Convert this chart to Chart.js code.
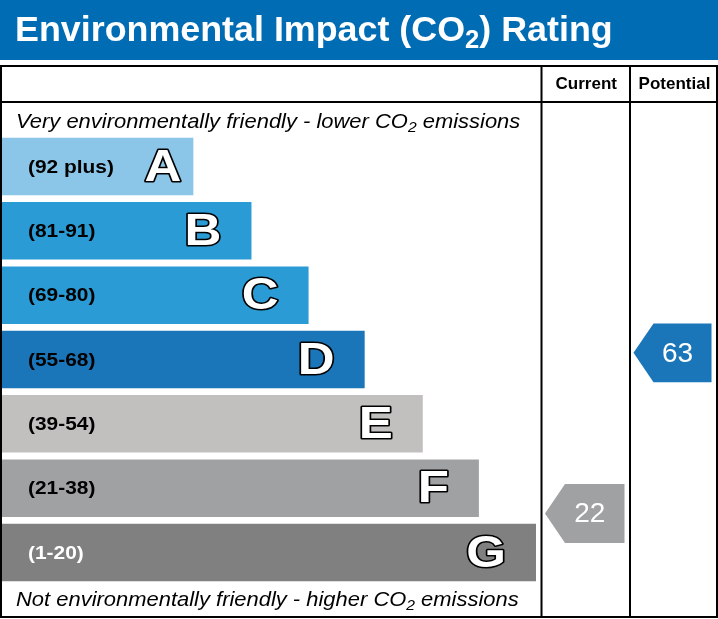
<!DOCTYPE html>
<html>
<head>
<meta charset="utf-8">
<script src="https://cdn.jsdelivr.net/npm/chart.js@4.4.1/dist/chart.umd.min.js"></script>
<style>
  body { margin: 0; background: #fff; }
  #wrap { width: 718px; height: 619px; }
</style>
</head>
<body>
<div id="wrap"><canvas id="epc" width="718" height="619"></canvas></div>
<script>
// bands, top (best) to bottom (worst)
const bands = ['A', 'B', 'C', 'D', 'E', 'F', 'G'];
const bandRanges = ['(92 plus)', '(81-91)', '(69-80)', '(55-68)', '(39-54)', '(21-38)', '(1-20)'];
const bandMin = [92, 81, 69, 55, 39, 21, 1];
const bandMax = [100, 91, 80, 68, 54, 38, 20];
const barLengths = [191, 249, 306, 362, 420, 476, 533];
const currentRating = 22;
const potentialRating = 63;

const bandColours = ['#8bc5e8', '#2a9bd5', '#2a9bd5', '#1a75b9', '#c1c0be', '#a0a1a3', '#808080'];
const headerBlue = '#006cb4';
const FONT = '"Liberation Sans", Arial, sans-serif';

// column edges of the Current / Potential boxes
const colCurrent = 541.5, colPotential = 630, frameRight = 717;

function bandOf(v) {
    for (let i = 0; i < bands.length; i++) {
        if (v >= bandMin[i] && v <= bandMax[i]) return i;
    }
    return bands.length - 1;
}

// text with a subscript piece (CO2), stretched sideways by sx
function subText(ctx, parts, x, y, size, style, sx) {
    ctx.save();
    ctx.translate(x, y);
    ctx.scale(sx, 1);
    let cx = 0;
    parts.forEach(p => {
        if (p.sub) {
            ctx.font = style + ' ' + Math.round(size * 0.72) + 'px ' + FONT;
            ctx.fillText(p.t, cx, size * 0.2);
        } else {
            ctx.font = style + ' ' + size + 'px ' + FONT;
            ctx.fillText(p.t, cx, 0);
        }
        cx += ctx.measureText(p.t).width;
    });
    ctx.restore();
}

const epcPlugin = {
    id: 'epcPlugin',
    beforeDraw(chart) {
        const ctx = chart.ctx;
        ctx.save();
        ctx.fillStyle = '#fff';
        ctx.fillRect(0, 0, chart.width, chart.height);
        ctx.fillStyle = headerBlue;
        ctx.fillRect(0, 0, chart.width, 60);
        ctx.fillStyle = '#fff';
        ctx.textBaseline = 'alphabetic';
        subText(ctx, [{t: 'Environmental Impact (CO'}, {t: '2', sub: true}, {t: ') Rating'}], 15, 41, 35, 'bold', 1.024);
        ctx.restore();
    },
    afterDatasetsDraw(chart) {
        const ctx = chart.ctx;
        const meta = chart.getDatasetMeta(0);
        ctx.save();

        // band range labels and big letters
        meta.data.forEach((bar, i) => {
            const p = bar.getProps(['x', 'y', 'height'], true);
            ctx.textBaseline = 'middle';
            ctx.textAlign = 'left';
            ctx.fillStyle = i === bands.length - 1 ? '#fff' : '#000';
            subText(ctx, [{t: bandRanges[i]}], 28, p.y + 1, 19, 'bold', 1.1);

            const lx = p.x - (i === 0 ? 12 : 30);
            ctx.save();
            ctx.translate(lx, p.y + 2);
            ctx.scale(1.16, 1);
            ctx.textAlign = 'right';
            ctx.font = 'bold 44px ' + FONT;
            ctx.lineWidth = 3;
            ctx.lineJoin = 'round';
            ctx.strokeStyle = '#000';
            ctx.fillStyle = '#fff';
            ctx.strokeText(bands[i], 0, 0);
            ctx.fillText(bands[i], 0, 0);
            ctx.restore();
        });

        // frame
        ctx.strokeStyle = '#000';
        ctx.lineWidth = 2;
        ctx.strokeRect(1, 66, frameRight - 1, 551);
        ctx.beginPath();
        ctx.moveTo(1, 102); ctx.lineTo(frameRight, 102);
        ctx.moveTo(colCurrent, 66); ctx.lineTo(colCurrent, 617);
        ctx.moveTo(colPotential, 66); ctx.lineTo(colPotential, 617);
        ctx.stroke();

        ctx.fillStyle = '#000';
        ctx.textAlign = 'center';
        ctx.textBaseline = 'middle';
        ctx.font = 'bold 17px ' + FONT;
        ctx.fillText('Current', (colCurrent + colPotential) / 2 + 0.5, 84);
        ctx.fillText('Potential', (colPotential + frameRight) / 2 + 1, 84);

        ctx.textAlign = 'left';
        ctx.textBaseline = 'alphabetic';
        subText(ctx, [{t: 'Very environmentally friendly - lower CO'}, {t: '2', sub: true}, {t: ' emissions'}], 16, 128, 21, 'italic', 1.045);
        subText(ctx, [{t: 'Not environmentally friendly - higher CO'}, {t: '2', sub: true}, {t: ' emissions'}], 16, 606, 21, 'italic', 1.045);

        // rating arrows
        [[currentRating, colCurrent, colPotential], [potentialRating, colPotential, frameRight]].forEach(([v, l, r]) => {
            const i = bandOf(v);
            const p = meta.data[i].getProps(['y', 'height'], true);
            const frac = (bandMax[i] - v) / (bandMax[i] - bandMin[i]);
            const cy = p.y - p.height / 2 + frac * p.height;
            const h = p.height + 1.5;
            const x0 = l + 3.5, x1 = r - 5.5, tip = 20;
            ctx.fillStyle = bandColours[i];
            ctx.beginPath();
            ctx.moveTo(x0, cy);
            ctx.lineTo(x0 + tip, cy - h / 2);
            ctx.lineTo(x1, cy - h / 2);
            ctx.lineTo(x1, cy + h / 2);
            ctx.lineTo(x0 + tip, cy + h / 2);
            ctx.closePath();
            ctx.fill();
            ctx.fillStyle = '#fff';
            ctx.textAlign = 'center';
            ctx.textBaseline = 'middle';
            ctx.font = '28px ' + FONT;
            ctx.fillText(String(v), (x0 + x1) / 2 + tip / 4, cy + 1);
        });
        ctx.restore();
    }
};

new Chart(document.getElementById('epc'), {
    type: 'bar',
    data: {
        labels: bands,
        datasets: [{
            data: barLengths,
            backgroundColor: bandColours,
            borderWidth: 0,
            barPercentage: 1,
            categoryPercentage: 0.893
        }]
    },
    options: {
        indexAxis: 'y',
        responsive: false,
        animation: false,
        layout: { padding: { left: 2, right: 718 - colCurrent - 0.5, top: 134.3, bottom: 34.3 } },
        scales: {
            x: { display: false, min: 0, max: 539 },
            y: { display: false }
        },
        plugins: {
            legend: { display: false },
            tooltip: { enabled: false }
        }
    },
    plugins: [epcPlugin]
});
</script>
</body>
</html>
